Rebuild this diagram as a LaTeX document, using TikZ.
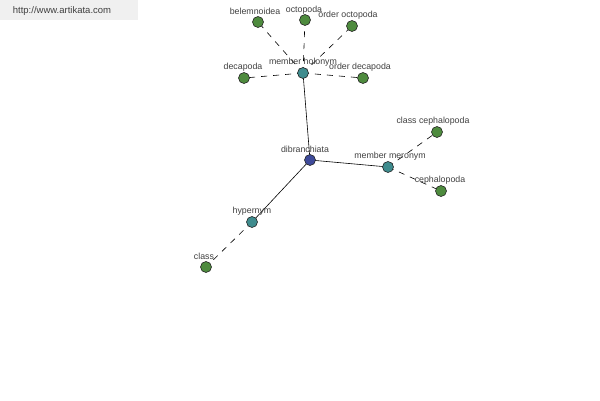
\documentclass[tikz,border=0pt]{standalone}
\usepackage{fontspec}
\setmainfont{Liberation Sans}
\begin{document}
\begin{tikzpicture}[x=1pt,y=-1pt,
  vtx/.style={circle,draw=black!85,line width=0.6pt,minimum size=11pt,inner sep=0pt},
  leaf/.style={vtx,fill=leafgreen},
  rel/.style={vtx,fill=relteal},
  root/.style={vtx,fill=rootblue},
  lbl/.style={font=\fontsize{8.8}{10}\selectfont,text=black!75,inner sep=0pt},
  solidedge/.style={draw=black,line width=0.6pt},
  dashedge/.style={draw=black,line width=0.6pt,dash pattern=on 6pt off 6pt}]
\definecolor{leafgreen}{HTML}{4E8B3E}
\definecolor{relteal}{HTML}{3F8C8E}
\definecolor{rootblue}{HTML}{3E4A9A}
\useasboundingbox[fill=white] (0,0) rectangle (600,400);
\fill[black!6] (0,0) rectangle (138,20);
\node[font=\fontsize{9.5}{11}\selectfont,text=black!75,inner sep=0pt] (wm) at (62,11) {http://www.artikata.com};
% vertices
\coordinate (pdib) at (310,160);
\coordinate (pmh) at (303,73);
\coordinate (pmm) at (388,167);
\coordinate (phy) at (252,222);
\coordinate (pbel) at (258,22);
\coordinate (poct) at (305,20);
\coordinate (pooc) at (352,26);
\coordinate (pdec) at (244,78);
\coordinate (podec) at (363,78);
\coordinate (pcc) at (437,132);
\coordinate (pcep) at (441,191);
\coordinate (pcls) at (206,267);
% edges
\draw[solidedge] (pdib) -- (pmh);
\draw[solidedge] (pdib) -- (pmm);
\draw[solidedge] (pdib) -- (phy);
\draw[dashedge] (pmh) -- (pbel);
\draw[dashedge] (pmh) -- (poct);
\draw[dashedge] (pmh) -- (pooc);
\draw[dashedge] (pmh) -- (pdec);
\draw[dashedge] (pmh) -- (podec);
\draw[dashedge] (pmm) -- (pcc);
\draw[dashedge] (pmm) -- (pcep);
\draw[dashedge] (phy) -- (pcls);
% labels
\node[lbl] (ldib) at (305,149) {dibranchiata};
\node[lbl] (lmh) at (303,62) {member holonym};
\node[lbl] (lmm) at (390,156) {member meronym};
\node[lbl] (lhy) at (252,211) {hypernym};
\node[lbl] (lbel) at (255,11) {belemnoidea};
\node[lbl] (loct) at (304,10) {octopoda};
\node[lbl] (looc) at (348,15) {order octopoda};
\node[lbl] (ldec) at (243,67) {decapoda};
\node[lbl] (lodec) at (360,67) {order decapoda};
\node[lbl] (lcc) at (433,121) {class cephalopoda};
\node[lbl] (lcep) at (440,180) {cephalopoda};
\node[lbl] (lcls) at (204,256) {class};
% nodes
\node[root] (dib) at (pdib) {};
\node[rel] (mh) at (pmh) {};
\node[rel] (mm) at (pmm) {};
\node[rel] (hy) at (phy) {};
\node[leaf] (bel) at (pbel) {};
\node[leaf] (oct) at (poct) {};
\node[leaf] (ooc) at (pooc) {};
\node[leaf] (dec) at (pdec) {};
\node[leaf] (odec) at (podec) {};
\node[leaf] (cc) at (pcc) {};
\node[leaf] (cep) at (pcep) {};
\node[leaf] (cls) at (pcls) {};
\end{tikzpicture}
\end{document}
